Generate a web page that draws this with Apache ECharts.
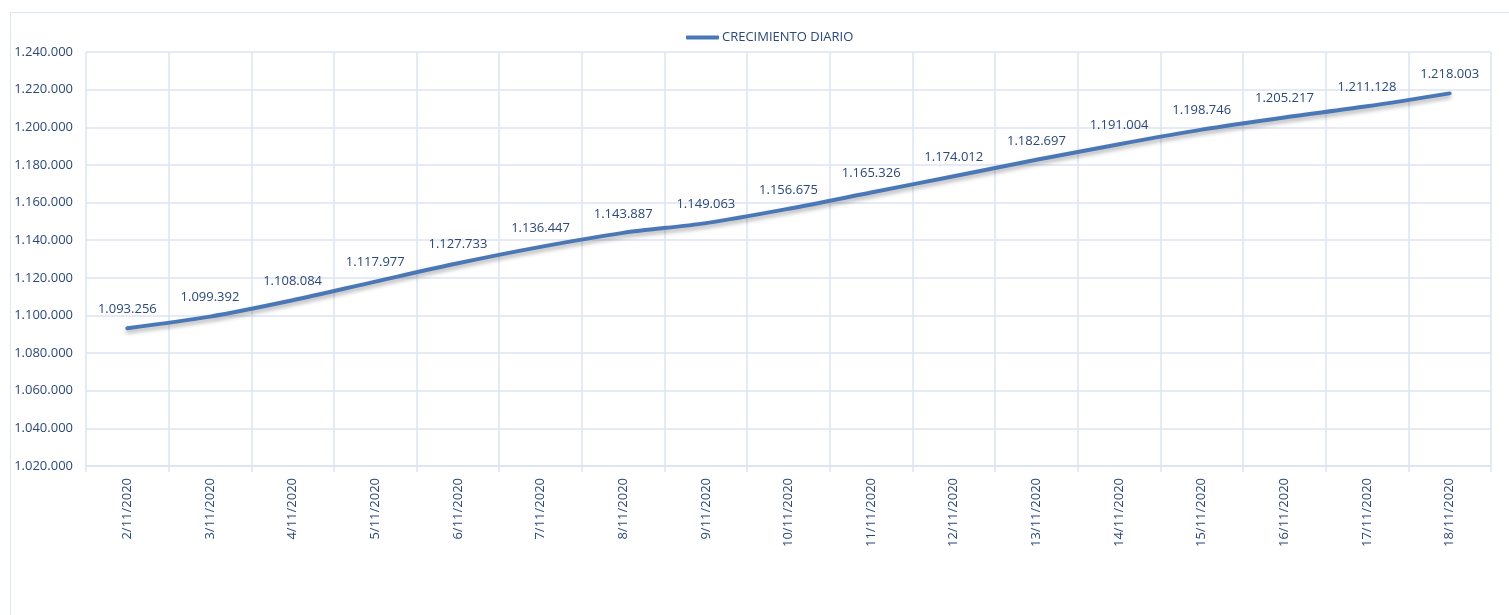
<!DOCTYPE html>
<html>
<head>
<meta charset="utf-8">
<script src="https://cdn.jsdelivr.net/npm/echarts@6/dist/echarts.min.js"></script>
<style>
  html, body { margin: 0; padding: 0; background: #fff; }
  #frame { position: absolute; left: 10px; top: 12px; width: 1540px; height: 640px; border: 1px solid #dce6f2; }
  #chart { position: absolute; left: 0; top: 0; width: 1509px; height: 615px; }
</style>
</head>
<body>
<div id="frame"></div>
<div id="chart"></div>
<script>
const days = ['2/11/2020', '3/11/2020', '4/11/2020', '5/11/2020', '6/11/2020', '7/11/2020',
  '8/11/2020', '9/11/2020', '10/11/2020', '11/11/2020', '12/11/2020', '13/11/2020',
  '14/11/2020', '15/11/2020', '16/11/2020', '17/11/2020', '18/11/2020'];
const dailyGrowth = [1093256, 1099392, 1108084, 1117977, 1127733, 1136447, 1143887, 1149063,
  1156675, 1165326, 1174012, 1182697, 1191004, 1198746, 1205217, 1211128, 1218003];
const seriesName = 'CRECIMIENTO DIARIO';

const textColor = '#2b4878';
const gridColor = '#dbe5f3';
const font = 'Open Sans';

function dotted(v) {
  return String(Math.round(v)).replace(/\B(?=(\d{3})+(?!\d))/g, '.');
}

const chart = echarts.init(document.getElementById('chart'));
chart.setOption({
  animation: false,
  textStyle: { fontFamily: font },
  legend: {
    data: [seriesName],
    top: 26,
    left: 681,
    itemWidth: 33,
    itemHeight: 4,
    icon: 'roundRect',
    itemGap: 4,
    textStyle: { color: textColor, fontSize: 13, fontFamily: font, padding: [0, 0, 0, -2] },
  },
  grid: { left: 86, right: 18, top: 52, bottom: 149 },
  xAxis: {
    type: 'category',
    data: days,
    boundaryGap: true,
    axisLine: { lineStyle: { color: gridColor, width: 1.5 } },
    axisTick: { show: true, length: 6, lineStyle: { color: gridColor, width: 1.5 } },
    splitLine: { show: true, lineStyle: { color: gridColor, width: 1.5 } },
    axisLabel: { rotate: 90, color: textColor, fontSize: 13, margin: 12, fontFamily: font },
  },
  yAxis: {
    type: 'value',
    min: 1020000,
    max: 1240000,
    interval: 20000,
    axisLine: { show: false },
    axisTick: { show: false },
    splitLine: { lineStyle: { color: gridColor, width: 1.5 } },
    axisLabel: { color: textColor, fontSize: 13, margin: 13, formatter: dotted, fontFamily: font },
  },
  series: [
    {
      name: seriesName,
      type: 'line',
      data: dailyGrowth,
      smooth: 0.3,
      symbol: 'circle',
      symbolSize: 1,
      showSymbol: true,
      lineStyle: {
        color: '#4a78b6',
        width: 4,
        cap: 'round',
        shadowColor: 'rgba(0,0,0,0.3)',
        shadowBlur: 4,
        shadowOffsetY: 3,
      },
      itemStyle: { color: '#4a78b6' },
      label: {
        show: true,
        position: 'top',
        distance: 12,
        color: textColor,
        fontSize: 13,
        fontFamily: font,
        formatter: (p) => dotted(p.value),
      },
      labelLayout: { hideOverlap: false },
    },
  ],
});
</script>
</body>
</html>
